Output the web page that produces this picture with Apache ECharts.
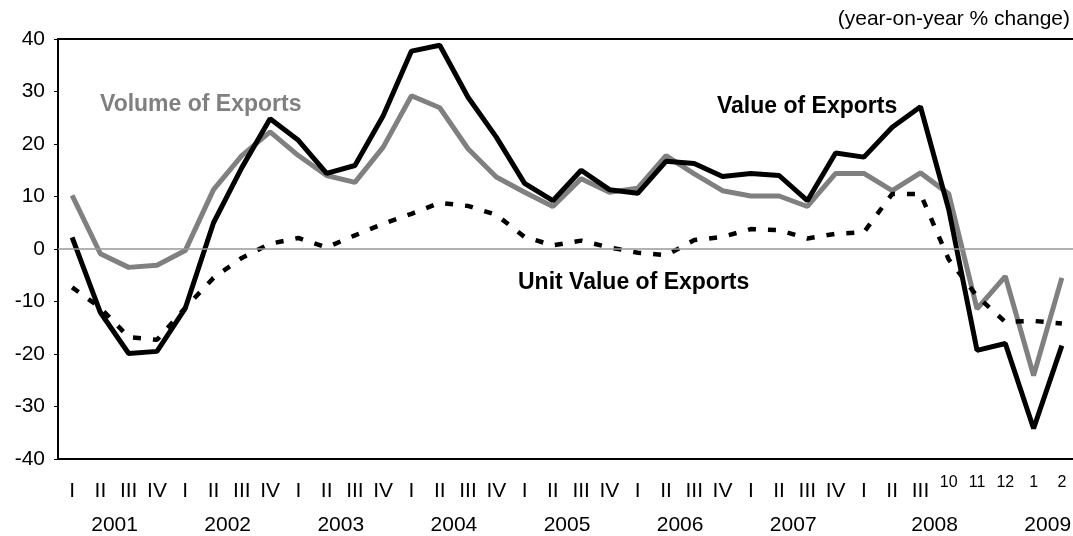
<!DOCTYPE html>
<html>
<head>
<meta charset="utf-8">
<title>Exports</title>
<script src="https://cdn.jsdelivr.net/npm/echarts@6/dist/echarts.min.js"></script>
<style>
  html, body { margin: 0; padding: 0; background: #fff; }
  #chart { width: 1073px; height: 536px; }
</style>
</head>
<body>
<div id="chart"></div>
<script>
// period labels: quarters 2001 I .. 2008 III, then months 2008/10 .. 2009/2
const periodLabels = [
  'I', 'II', 'III', 'IV', 'I', 'II', 'III', 'IV', 'I', 'II', 'III', 'IV',
  'I', 'II', 'III', 'IV', 'I', 'II', 'III', 'IV', 'I', 'II', 'III', 'IV',
  'I', 'II', 'III', 'IV', 'I', 'II', 'III', '10', '11', '12', '1', '2'
];
// years and how many periods each year covers on the axis
const yearLabels = ['2001', '2002', '2003', '2004', '2005', '2006', '2007', '2008', '2009'];
const yearSpans = [4, 4, 4, 4, 4, 4, 4, 6, 2];

// year-on-year % change
const valueOfExports = [
  2.2, -12.1, -19.9, -19.5, -11.3, 5.0, 15.5, 24.8, 20.7, 14.4, 15.9, 25.4,
  37.7, 38.8, 28.9, 21.3, 12.5, 9.2, 15.0, 11.3, 10.6, 16.7, 16.3, 13.8,
  14.4, 14.0, 9.2, 18.3, 17.5, 23.2, 27.1, 7.5, -19.3, -18.0, -34.2, -18.4
];
const volumeOfExports = [
  10.2, -0.9, -3.5, -3.1, -0.3, 11.3, 17.8, 22.3, 17.8, 14.0, 12.7, 19.4,
  29.2, 26.9, 19.1, 13.7, 10.8, 8.1, 13.4, 10.8, 11.6, 17.8, 14.3, 11.1,
  10.1, 10.1, 8.1, 14.4, 14.4, 11.1, 14.5, 10.5, -11.4, -5.2, -24.1, -5.5
];
const unitValueOfExports = [
  -7.3, -11.2, -16.8, -17.3, -11.2, -5.5, -1.7, 1.0, 2.1, 0.3, 2.6, 4.8,
  6.7, 8.8, 8.2, 6.5, 2.3, 0.7, 1.6, 0.3, -0.7, -1.2, 1.7, 2.3,
  3.8, 3.6, 2.0, 2.9, 3.2, 10.5, 10.5, -2.0, -9.0, -13.9, -13.7, -14.2
];

const FONT = '"Liberation Sans", Arial, sans-serif';

// year label sits in the middle of its group of periods
const yearAt = {};
let start = 0;
yearSpans.forEach(function (n, i) {
  yearAt[start + (n - 1) / 2] = yearLabels[i];
  start += n;
});

const chart = echarts.init(document.getElementById('chart'), null, { renderer: 'canvas' });

const option = {
  animation: false,
  backgroundColor: '#fff',
  grid: {
    left: 58,
    right: -3,
    top: 39,
    bottom: 77,
    show: true,
    borderColor: '#000',
    borderWidth: 2,
    outerBoundsMode: 'none'
  },
  xAxis: [
    {
      type: 'category',
      data: periodLabels,
      boundaryGap: true,
      axisLine: { show: true, onZero: false, lineStyle: { color: '#000', width: 2 } },
      axisTick: { show: false },
      axisLabel: {
        interval: 0,
        margin: 32,
        verticalAlign: 'middle',
        color: '#000',
        fontFamily: FONT,
        fontSize: 21,
        formatter: function (v) {
          // months are drawn smaller and a bit higher
          return /^\d+$/.test(v) ? '{m|' + v + '}' : '{q|' + v + '}';
        },
        rich: {
          q: { fontSize: 21, fontFamily: FONT, color: '#000' },
          m: { fontSize: 16, fontFamily: FONT, color: '#000', padding: [0, 0, 16, 0] }
        }
      }
    },
    {
      // second row: years
      type: 'value',
      position: 'bottom',
      min: -0.5,
      max: 35.5,
      interval: 0.5,
      axisLine: { show: false, onZero: false },
      axisTick: { show: false },
      splitLine: { show: false },
      axisLabel: {
        margin: 66,
        verticalAlign: 'middle',
        color: '#000',
        fontFamily: FONT,
        fontSize: 21,
        showMinLabel: true,
        showMaxLabel: true,
        formatter: function (v) {
          return yearAt[v] || '';
        }
      }
    }
  ],
  yAxis: {
    type: 'value',
    min: -40,
    max: 40,
    interval: 10,
    axisLine: { show: true, onZero: false, lineStyle: { color: '#000', width: 2 } },
    axisTick: { show: true, length: 4, lineStyle: { color: '#000', width: 1 } },
    splitLine: { show: false },
    axisLabel: {
      margin: 13,
      color: '#000',
      fontFamily: FONT,
      fontSize: 21
    }
  },
  series: [
    {
      name: 'Volume of Exports',
      type: 'line',
      xAxisIndex: 0,
      data: volumeOfExports,
      symbol: 'none',
      lineStyle: { color: '#808080', width: 5 },
      markLine: {
        silent: true,
        symbol: 'none',
        label: { show: false },
        lineStyle: { color: '#999', width: 1.5, type: 'solid' },
        data: [{ yAxis: 0 }]
      }
    },
    {
      name: 'Value of Exports',
      type: 'line',
      xAxisIndex: 0,
      data: valueOfExports,
      symbol: 'none',
      lineStyle: { color: '#000', width: 5 }
    },
    {
      name: 'Unit Value of Exports',
      type: 'line',
      xAxisIndex: 0,
      data: unitValueOfExports,
      symbol: 'none',
      lineStyle: { color: '#000', width: 4.5, type: [8, 12] }
    }
  ],
  // series names and unit note written on the plot
  graphic: [
    {
      type: 'text', left: 100, top: 93,
      style: { text: 'Volume of Exports', fill: '#808080', font: 'bold 23px ' + FONT }
    },
    {
      type: 'text', left: 717, top: 95,
      style: { text: 'Value of Exports', fill: '#000', font: 'bold 23px ' + FONT }
    },
    {
      type: 'text', left: 518, top: 271,
      style: { text: 'Unit Value of Exports', fill: '#000', font: 'bold 23px ' + FONT }
    },
    {
      type: 'text', right: 3, top: 9,
      style: { text: '(year-on-year % change)', fill: '#000', font: '21px ' + FONT }
    }
  ]
};

chart.setOption(option);
</script>
</body>
</html>
